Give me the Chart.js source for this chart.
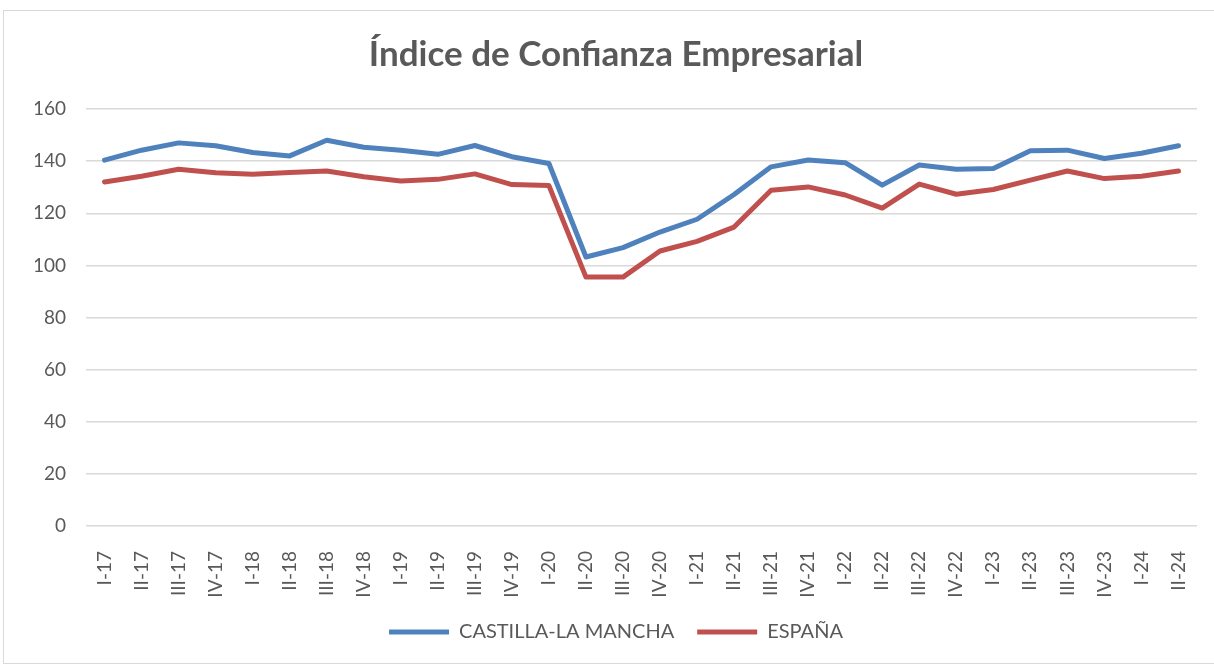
<!DOCTYPE html>
<html>
<head>
<meta charset="utf-8">
<script src="https://cdn.jsdelivr.net/npm/chart.js@4/dist/chart.umd.min.js"></script>
<style>
  html, body { margin: 0; padding: 0; background: #fff; overflow: hidden; }
  #box { position: absolute; left: 3px; top: 10px; width: 1216px; height: 652px; border: 1px solid #d9d9d9; }
  canvas { display: block; }
</style>
</head>
<body>
<div id="box"><canvas id="chart" width="1216" height="652"></canvas></div>
<script>
Chart.defaults.font.family = 'Lato';
Chart.defaults.color = '#595959';

const quarters = ['I-17', 'II-17', 'III-17', 'IV-17', 'I-18', 'II-18', 'III-18', 'IV-18',
    'I-19', 'II-19', 'III-19', 'IV-19', 'I-20', 'II-20', 'III-20', 'IV-20',
    'I-21', 'II-21', 'III-21', 'IV-21', 'I-22', 'II-22', 'III-22', 'IV-22',
    'I-23', 'II-23', 'III-23', 'IV-23', 'I-24', 'II-24'];

const castillaLaMancha = [140.4, 144.2, 147.0, 145.9, 143.3, 142.0, 148.0, 145.3,
    144.2, 142.6, 146.0, 141.7, 139.1, 103.2, 106.8, 112.8,
    117.7, 127.2, 137.8, 140.4, 139.4, 130.8, 138.5, 136.9,
    137.2, 144.0, 144.2, 141.0, 143.0, 145.9];

const espana = [132.0, 134.2, 136.9, 135.5, 135.0, 135.6, 136.2, 134.0,
    132.4, 133.0, 135.1, 131.0, 130.6, 95.5, 95.5, 105.5,
    109.2, 114.7, 128.8, 130.1, 127.0, 122.0, 131.2, 127.3,
    129.1, 132.7, 136.2, 133.3, 134.2, 136.2];

const chartElm = document.getElementById('chart');

const lineStyle = {
    borderWidth: 5,
    pointRadius: 0,
    tension: 0,
    borderCapStyle: 'round',
    borderJoinStyle: 'round'
};

new Chart(chartElm, {
    type: 'line',
    data: {
        labels: quarters,
        datasets: [
            {label: 'CASTILLA-LA MANCHA', data: castillaLaMancha, borderColor: '#4f81bd', backgroundColor: '#4f81bd', ...lineStyle},
            {label: 'ESPAÑA', data: espana, borderColor: '#c0504d', backgroundColor: '#c0504d', ...lineStyle}
        ]
    },
    options: {
        responsive: false,
        animation: false,
        layout: {padding: {left: 31, right: 23, top: 0, bottom: 11}},
        plugins: {
            title: {
                display: true,
                text: 'Índice de Confianza Empresarial',
                color: '#595959',
                font: {size: 35, weight: 'bold'},
                padding: {top: 23, bottom: 33}
            },
            legend: {
                position: 'bottom',
                labels: {
                    usePointStyle: true,
                    pointStyle: 'line',
                    pointStyleWidth: 60,
                    padding: 23,
                    font: {size: 20},
                    color: '#595959'
                }
            },
            tooltip: {enabled: false}
        },
        scales: {
            x: {
                offset: true,
                grid: {display: false},
                border: {display: false},
                ticks: {
                    maxRotation: 90,
                    minRotation: 90,
                    autoSkip: false,
                    padding: 17,
                    font: {size: 19},
                    color: '#595959'
                },
                afterFit: scale => { scale.height = 73; }
            },
            y: {
                min: 0,
                max: 160,
                ticks: {stepSize: 20, padding: 20, font: {size: 19}, color: '#595959'},
                grid: {color: '#d9d9d9', lineWidth: 1.5, drawTicks: false},
                border: {display: false},
                afterFit: scale => { scale.width = 51; }
            }
        }
    }
});
</script>
</body>
</html>
